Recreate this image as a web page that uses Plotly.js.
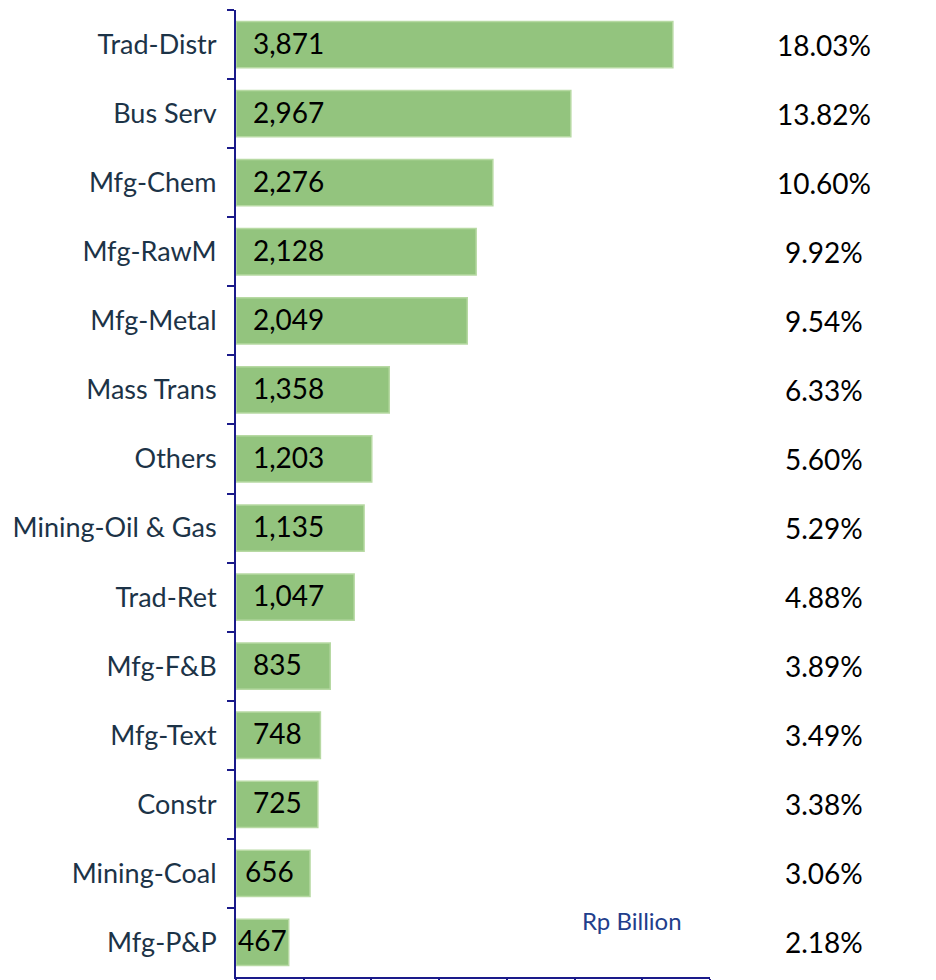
<!DOCTYPE html>
<html>
<head>
<meta charset="utf-8">
<script src="https://cdn.plot.ly/plotly-3.0.1.min.js"></script>
<style>html,body{margin:0;padding:0;background:#fff;}#chart{width:936px;height:980px;}</style>
</head>
<body>
<div id="chart"></div>
<script>
const categories = ["Trad-Distr","Bus Serv","Mfg-Chem","Mfg-RawM","Mfg-Metal","Mass Trans","Others","Mining-Oil & Gas","Trad-Ret","Mfg-F&B","Mfg-Text","Constr","Mining-Coal","Mfg-P&P"];
const values = [3871,2967,2276,2128,2049,1358,1203,1135,1047,835,748,725,656,467];
const shares = ["18.03%","13.82%","10.60%","9.92%","9.54%","6.33%","5.60%","5.29%","4.88%","3.89%","3.49%","3.38%","3.06%","2.18%"];
const unitLabel = "Rp Billion";

const fmt = v => v.toLocaleString("en-US");
const FONT = "Lato, 'Open Sans', sans-serif";

const trace = {
  type: "bar",
  orientation: "h",
  y: categories,
  x: values,
  textposition: "none",
  marker: {color: "#93C47E", line: {color: "#B7D9A3", width: 1.5}},
  width: 0.67,
  hoverinfo: "none"
};

const valueLabels = categories.map((c, i) => ({
  xref: "x", yref: "y",
  x: 0, y: c,
  text: fmt(values[i]),
  showarrow: false,
  xanchor: "left", yanchor: "middle",
  xshift: values[i] < 500 ? 0 : (values[i] < 700 ? 7 : 15),
  yshift: 2,
  font: {family: FONT, size: 28, color: "#000"}
}));

const shareLabels = categories.map((c, i) => ({
  xref: "paper", yref: "y",
  x: 1.24, y: c,
  text: shares[i],
  showarrow: false,
  xanchor: "center", yanchor: "middle",
  font: {family: FONT, size: 28, color: "#000"}
}));

const unitAnno = {
  xref: "paper", yref: "paper",
  x: 0.835, y: 0.058,
  text: unitLabel,
  showarrow: false,
  xanchor: "center", yanchor: "middle",
  font: {family: FONT, size: 24, color: "#1F3E8C"}
};

const layout = {
  width: 936, height: 980,
  margin: {l: 236, r: 226, t: 10, b: 3},
  paper_bgcolor: "#fff", plot_bgcolor: "#fff",
  showlegend: false,
  xaxis: {
    range: [0, 4200],
    dtick: 600, tick0: 0,
    showgrid: false, zeroline: false,
    showline: true, linecolor: "#1A1A8A", linewidth: 2,
    ticks: "outside", ticklen: 6, tickwidth: 2, tickcolor: "#1A1A8A",
    showticklabels: false
  },
  yaxis: {
    type: "category",
    autorange: "reversed",
    tickson: "boundaries",
    showgrid: false, zeroline: false,
    showline: true, linecolor: "#1A1A8A", linewidth: 2,
    ticks: "outside", ticklen: 7, tickwidth: 2, tickcolor: "#1A1A8A",
    tickfont: {family: FONT, size: 27, color: "#1C3347"},
    ticklabelstandoff: 12
  },
  annotations: valueLabels.concat(shareLabels, [unitAnno])
};

Plotly.newPlot("chart", [trace], layout, {displayModeBar: false, staticPlot: true});
</script>
</body>
</html>
